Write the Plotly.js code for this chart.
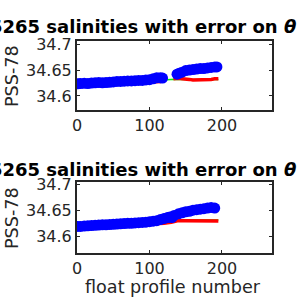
<!DOCTYPE html>
<html><head><meta charset="utf-8">
<script src="https://cdn.plot.ly/plotly-3.0.1.min.js"></script>
<style>html,body{margin:0;padding:0;background:#fff;overflow:hidden;} .panel{width:300px;height:150px;display:block;}</style>
</head><body><div id="topPanel" class="panel"></div><div id="botPanel" class="panel"></div>
<script>
const titleText = "5265 salinities with error on <i>θ</i>";
const yLabel = "PSS-78";
const xLabel = "float profile number";
const xTicks = [0, 100, 200];
const xTickText = ["0", "100", "200"];
const yTicks = [34.6, 34.65, 34.7];
const yTickText = ["34.6", "34.65", "34.7"];

// top panel
const topBlueX = [1,5,10,15,20,25,30,35,40,45,50,55,60,65,70,75,80,85,90,95,100,105,110,115,118,null,138,141,145,150,155,160,165,170,175,180,185,190,193];
const topBlueY = [34.6235,34.624,34.6245,34.624,34.625,34.6255,34.626,34.6255,34.626,34.6265,34.627,34.628,34.628,34.6285,34.629,34.629,34.6295,34.630,34.630,34.631,34.6315,34.633,34.635,34.635,34.6345,null,34.642,34.644,34.646,34.649,34.650,34.651,34.652,34.653,34.653,34.654,34.655,34.656,34.656];
const topRedX = [1,10,20,30,40,50,60,70,80,90,100,110,116,null,133,140,145,150,155,160,165,170,175,180,185,190,195];
const topRedY = [34.621,34.6215,34.622,34.6225,34.623,34.6235,34.624,34.6245,34.625,34.6255,34.626,34.627,34.628,null,34.633,34.634,34.633,34.633,34.632,34.631,34.631,34.6305,34.631,34.632,34.632,34.633,34.633];
const topGreenX = [1,20,40,60,80,100,118,125,135,150,165,180,195];
const topGreenY = [34.6215,34.6225,34.6235,34.6245,34.6255,34.627,34.631,34.632,34.6325,34.632,34.632,34.632,34.632];

// bottom panel
const botBlueX = [1,5,10,15,20,25,30,35,40,45,50,55,60,65,70,75,80,85,90,95,100,105,110,115,120,125,128,131,134,140,145,150,155,160,165,170,175,180,185,190];
const botBlueY = [34.619,34.619,34.6195,34.620,34.6205,34.621,34.6215,34.622,34.622,34.6225,34.623,34.6235,34.624,34.6245,34.625,34.625,34.6255,34.626,34.6265,34.627,34.628,34.629,34.630,34.632,34.634,34.636,34.637,34.636,34.640,34.643,34.645,34.647,34.648,34.650,34.651,34.652,34.653,34.654,34.655,34.654];
const botRedX = [1,15,30,45,60,75,90,105,120,130,135,140,150,160,170,180,190,195];
const botRedY = [34.616,34.617,34.618,34.619,34.620,34.621,34.622,34.6235,34.625,34.627,34.629,34.630,34.630,34.630,34.6295,34.629,34.629,34.6295];
const botGreenX = [1,40,80,120,130,140,160,180,195];
const botGreenY = [34.617,34.619,34.621,34.625,34.628,34.631,34.631,34.631,34.631];

const FONT = "DejaVu Sans";
const AX = "#262626";
const H = 150;

function green(x, y) {
  return {x: x, y: y, type: "scatter", mode: "lines",
    line: {color: "#00ff00", width: 1.5}, hoverinfo: "skip", showlegend: false};
}
function red(x, y) {
  return {x: x, y: y, type: "scatter", mode: "lines",
    line: {color: "#ff0000", width: 3.5}, hoverinfo: "skip", showlegend: false};
}
function blue(x, y) {
  return {x: x, y: y, type: "scatter", mode: "markers",
    marker: {color: "#0000ff", size: 11, line: {width: 0}}, hoverinfo: "skip", showlegend: false};
}

function makeLayout(boxTop, boxBottom, yRange, titleY, yLabelY, withXLabel) {
  const ann = [
    {text: "<b>" + titleText + "</b>", xref: "paper", yref: "paper", x: 298/300, y: 1 - titleY/H,
      xanchor: "right", yanchor: "middle", showarrow: false, font: {family: FONT, size: 18, color: "#000"}},
    {text: yLabel, xref: "paper", yref: "paper", x: 12/300, y: 1 - yLabelY/H, textangle: -90,
      xanchor: "center", yanchor: "middle", showarrow: false, font: {family: FONT, size: 17.6, color: AX}}
  ];
  if (withXLabel) {
    ann.push({text: xLabel, xref: "paper", yref: "paper", x: 173/300, y: 1 - 137/H,
      xanchor: "center", yanchor: "middle", showarrow: false, font: {family: FONT, size: 17.6, color: AX}});
  }
  return {
    width: 300, height: H, margin: {l: 0, r: 0, t: 0, b: 0},
    paper_bgcolor: "#fff", plot_bgcolor: "#fff", showlegend: false,
    xaxis: {domain: [77/300, 272/300], range: [0, 269],
      tickmode: "array", tickvals: xTicks, ticktext: xTickText, ticks: "inside", ticklen: 3, tickwidth: 1, tickcolor: AX,
      showline: true, linecolor: AX, linewidth: 2, mirror: "ticks", showgrid: false, zeroline: false,
      tickfont: {family: FONT, size: 16, color: AX}},
    yaxis: {domain: [1 - boxBottom/H, 1 - boxTop/H], range: yRange,
      tickmode: "array", tickvals: yTicks, ticktext: yTickText, ticks: "inside", ticklen: 3, tickwidth: 1, tickcolor: AX,
      showline: true, linecolor: AX, linewidth: 2, mirror: "ticks", showgrid: false, zeroline: false,
      tickfont: {family: FONT, size: 16, color: AX}},
    annotations: ann
  };
}

const cfg = {staticPlot: true, displayModeBar: false};
Plotly.newPlot("topPanel",
  [green(topGreenX, topGreenY), red(topRedX, topRedY), blue(topBlueX, topBlueY)],
  makeLayout(41, 110, [34.573, 34.706], 27, 76, false), cfg);
Plotly.newPlot("botPanel",
  [green(botGreenX, botGreenY), red(botRedX, botRedY), blue(botBlueX, botBlueY)],
  makeLayout(32, 103, [34.568, 34.704], 20, 68, true), cfg);
</script>
</body></html>
